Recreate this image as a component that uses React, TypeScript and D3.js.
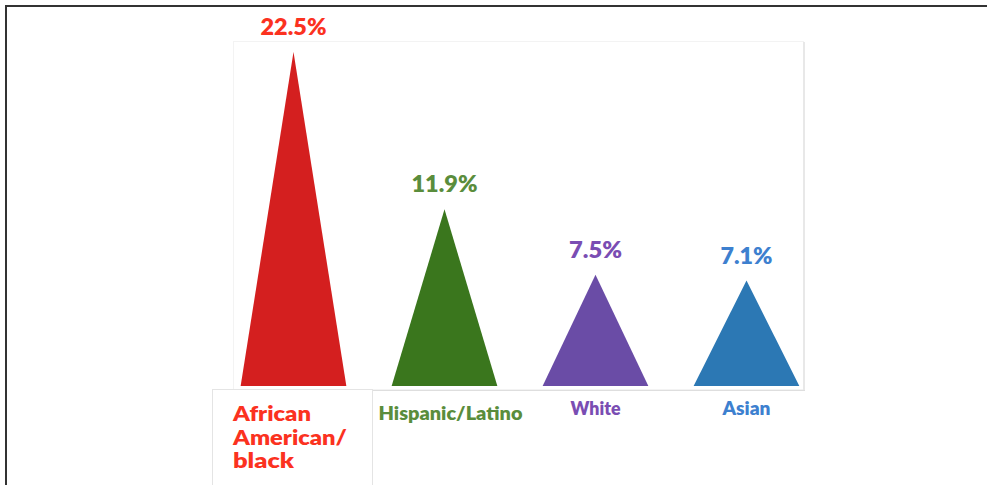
import React from "react";
import * as d3 from "d3";

const categories = ["African American/black", "Hispanic/Latino", "White", "Asian"];
const values = [22.5, 11.9, 7.5, 7.1];
const valueLabels = ["22.5%", "11.9%", "7.5%", "7.1%"];
const categoryLines = [["African", "American/", "black"], ["Hispanic/Latino"], ["White"], ["Asian"]];
const fillColors = ["#d41f1f", "#3a761d", "#6a4ca6", "#2c78b4"];
const textColors = ["#fb321f", "#5a8d3c", "#7a4db3", "#3d80cf"];

const W = 987;
const H = 485;

export default function App() {
  const x = d3.scaleBand<string>().domain(categories).range([218, 822]).paddingInner(0.3).paddingOuter(0.15);
  const y = d3.scaleLinear().domain([0, 22.5]).range([386, 52]);
  const font = "Lato, 'Open Sans', sans-serif";
  const valueWidths = [66, 66, 53, 52];
  const tri = (c: string, v: number) => {
    const x0 = x(c)!;
    const bw = x.bandwidth();
    const p = d3.path();
    p.moveTo(x0, y(0));
    p.lineTo(x0 + bw / 2, y(v));
    p.lineTo(x0 + bw, y(0));
    p.closePath();
    return p.toString();
  };
  return (
    <div style={{ position: "absolute", left: 0, top: 0 }}>
      <svg width={W} height={H} style={{ display: "block", background: "#fff" }}>
        <line x1={6} y1={6} x2={W} y2={6} stroke="#333" strokeWidth={2} />
        <line x1={6} y1={5} x2={6} y2={H} stroke="#333" strokeWidth={2} />
        <rect x={233.5} y={41.5} width={570} height={348} fill="#fff" stroke="#f3f3f3" strokeWidth={1} />
        <line x1={804} y1={42} x2={804} y2={390} stroke="#e8e8e8" strokeWidth={2} />
        <line x1={372} y1={390.5} x2={805} y2={390.5} stroke="#dedede" strokeWidth={1} />
        <rect x={212.5} y={389.5} width={160} height={110} fill="#fff" stroke="#e4e4e4" strokeWidth={1} />
        {categories.map((c, i) => (
          <path key={c} d={tri(c, values[i])} fill={fillColors[i]} />
        ))}
        {categories.map((c, i) => (
          <text
            key={"v" + c}
            x={x(c)! + x.bandwidth() / 2}
            y={y(values[i]) - 17}
            textAnchor="middle"
            fontFamily={font}
            fontWeight={800}
            fontSize={22}
            fill={textColors[i]}
            textLength={valueWidths[i]}
            lengthAdjust="spacingAndGlyphs"
          >
            {valueLabels[i]}
          </text>
        ))}
        {categoryLines[0].map((t, j) => (
          <text
            key={"a" + j}
            x={233}
            y={421 + j * 23.5}
            fontFamily={font}
            fontWeight={800}
            fontSize={21}
            fill={textColors[0]}
            textLength={[78, 114, 61][j]}
            lengthAdjust="spacingAndGlyphs"
          >
            {t}
          </text>
        ))}
        {[1, 2, 3].map((i) => (
          <text
            key={"c" + i}
            x={x(categories[i])! + x.bandwidth() / 2 + (i === 1 ? 6 : 0)}
            y={i === 1 ? 420 : 415}
            textAnchor="middle"
            fontFamily={font}
            fontWeight={800}
            fontSize={18}
            fill={textColors[i]}
            textLength={[0, 144, 50, 48][i]}
            lengthAdjust="spacingAndGlyphs"
          >
            {categoryLines[i][0]}
          </text>
        ))}
      </svg>
    </div>
  );
}
